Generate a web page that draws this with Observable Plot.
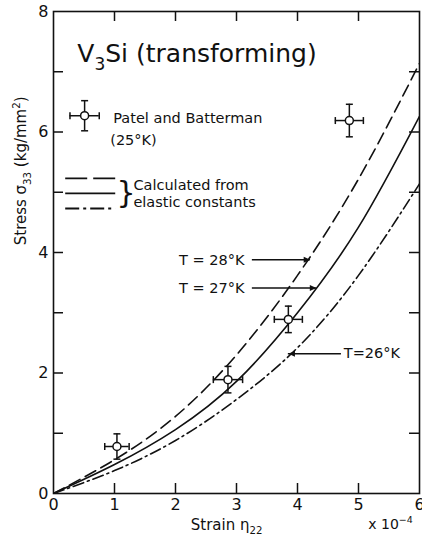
<!DOCTYPE html>
<html><head><meta charset="utf-8">
<script src="https://cdn.jsdelivr.net/npm/d3@7"></script>
<script src="https://cdn.jsdelivr.net/npm/@observablehq/plot@0.6"></script>
<style>body{margin:0;background:#fff}</style>
</head><body><div id="chart"></div>
<script>
// Tick values
const xTicks = [0, 1, 2, 3, 4, 5, 6];
const yTicks = [0, 2, 4, 6, 8];
const xTickMarks = [1, 2, 3, 4, 5];
const yTickMarks = [1, 2, 3, 4, 5, 6, 7];

// Calculated curves (strain x1e-4, stress kg/mm^2)
const strainX = [0, 1, 2, 3, 4, 5, 6];
const stress28 = [0, 0.56, 1.28, 2.30, 3.62, 5.22, 7.14];
const stress27 = [0, 0.48, 1.06, 1.86, 3.00, 4.42, 6.26];
const stress26 = [0, 0.38, 0.88, 1.56, 2.42, 3.62, 5.14];

// Patel and Batterman measurements (25 K)
const measX = [1.04, 2.86, 3.85, 4.85];
const measY = [0.78, 1.89, 2.89, 6.19];
const measErrX = [0.20, 0.24, 0.23, 0.23];
const measErrY = [0.21, 0.22, 0.22, 0.27];

// Legend sample point
const legendPoint = [{x: 0.51, y: 6.27, ex: 0.24, ey: 0.25}];
// Legend line samples
const legendDash = [{x1: 0.2, x2: 1.02, y: 5.23}];
const legendSolid = [{x1: 0.2, x2: 1.02, y: 4.98}];
const legendDashDot = [{x1: 0.2, x2: 1.02, y: 4.73}];
const braceAt = [{x: 1.19, y: 4.98}];

// Annotations
const titleNote = [{text: "V₃Si (transforming)", x: 0.39, y: 7.30}];
const notesStart = [
  {text: "Patel and Batterman", x: 0.98, y: 6.22},
  {text: "(25°K)", x: 0.93, y: 5.86},
  {text: "Calculated from", x: 1.31, y: 5.11},
  {text: "elastic constants", x: 1.31, y: 4.83},
  {text: "T=26°K", x: 4.76, y: 2.32}
];
const notesEnd = [
  {text: "T = 28°K", x: 3.13, y: 3.87},
  {text: "T = 27°K", x: 3.13, y: 3.40}
];
const arrowsRight = [
  {x1: 3.26, x2: 4.21, y: 3.88},
  {x1: 3.26, x2: 4.31, y: 3.41}
];
const arrowsLeft = [
  {x1: 4.72, x2: 3.85, y: 2.32}
];
const xLabel = [{text: "Strain η₂₂", x: 2.25}];
const xUnit = [{text: "x 10⁻⁴", x: 5.16}];
const yLabel = [{text: "Stress σ₃₃ (kg/mm²)", y: 4.12}];

const mk = (ys) => strainX.map((x, i) => ({x, y: ys[i]}));
const meas = measX.map((x, i) => ({x, y: measY[i], ex: measErrX[i], ey: measErrY[i]}));
const pts = meas.concat(legendPoint);

const capH = {draw(ctx, size) { const r = Math.sqrt(size / Math.PI); ctx.moveTo(-r, 0); ctx.lineTo(r, 0); }};
const capV = {draw(ctx, size) { const r = Math.sqrt(size / Math.PI); ctx.moveTo(0, -r); ctx.lineTo(0, r); }};
const head = {draw(ctx, size) { const r = Math.sqrt(size / Math.PI); ctx.moveTo(0, 0); ctx.lineTo(-2.2 * r, -r); ctx.lineTo(-2.2 * r, r); ctx.closePath(); }};

const ink = "#111";
const F = "DejaVu Sans";

const chart = Plot.plot({
  width: 422,
  height: 543,
  marginLeft: 53,
  marginRight: 3,
  marginTop: 11,
  marginBottom: 50,
  x: {domain: [0, 6]},
  y: {domain: [0, 8]},
  style: {fontFamily: F, background: "#fff", color: ink},
  marks: [
    Plot.frame({stroke: ink, strokeWidth: 1.6}),
    Plot.ruleX(xTickMarks, {x: d => d, insetTop: 472, stroke: ink, strokeWidth: 1.5}),
    Plot.ruleX(xTickMarks, {x: d => d, insetBottom: 472, stroke: ink, strokeWidth: 1.5}),
    Plot.ruleY(yTickMarks, {y: d => d, insetRight: 356, stroke: ink, strokeWidth: 1.5}),
    Plot.ruleY(yTickMarks, {y: d => d, insetLeft: 356, stroke: ink, strokeWidth: 1.5}),
    Plot.axisX({ticks: xTicks, tickSize: 0, tickPadding: 5, fontSize: 16, tickFormat: d => String(d), label: null}),
    Plot.axisY({ticks: yTicks, tickSize: 0, tickPadding: 5, fontSize: 16, tickFormat: d => String(d), label: null}),
    // curves
    Plot.line(mk(stress28), {x: "x", y: "y", curve: "natural", stroke: ink, strokeWidth: 1.6, strokeDasharray: "12,6", clip: true}),
    Plot.line(mk(stress27), {x: "x", y: "y", curve: "natural", stroke: ink, strokeWidth: 1.6, clip: true}),
    Plot.line(mk(stress26), {x: "x", y: "y", curve: "natural", stroke: ink, strokeWidth: 1.6, strokeDasharray: "11,4,2,4", clip: true}),
    // error bars
    Plot.ruleX(pts, {x: "x", y1: d => d.y - d.ey, y2: d => d.y + d.ey, stroke: ink, strokeWidth: 1.5}),
    Plot.ruleY(pts, {y: "y", x1: d => d.x - d.ex, x2: d => d.x + d.ex, stroke: ink, strokeWidth: 1.5}),
    Plot.dot(pts, {x: "x", y: d => d.y - d.ey, symbol: capH, r: 3.5, stroke: ink, strokeWidth: 1.5}),
    Plot.dot(pts, {x: "x", y: d => d.y + d.ey, symbol: capH, r: 3.5, stroke: ink, strokeWidth: 1.5}),
    Plot.dot(pts, {x: d => d.x - d.ex, y: "y", symbol: capV, r: 3.5, stroke: ink, strokeWidth: 1.5}),
    Plot.dot(pts, {x: d => d.x + d.ex, y: "y", symbol: capV, r: 3.5, stroke: ink, strokeWidth: 1.5}),
    Plot.dot(pts, {x: "x", y: "y", r: 4, fill: "#fff", stroke: ink, strokeWidth: 1.5}),
    // legend lines
    Plot.ruleY(legendDash, {x1: "x1", x2: "x2", y: "y", stroke: ink, strokeWidth: 1.8, strokeDasharray: "22,6"}),
    Plot.ruleY(legendSolid, {x1: "x1", x2: "x2", y: "y", stroke: ink, strokeWidth: 1.8}),
    Plot.ruleY(legendDashDot, {x1: "x1", x2: "x2", y: "y", stroke: ink, strokeWidth: 1.8, strokeDasharray: "14,4,3,4"}),
    Plot.text(braceAt, {x: "x", y: "y", text: () => "}", fontSize: 30, fill: ink}),
    // arrows
    Plot.ruleY(arrowsRight, {x1: "x1", x2: "x2", y: "y", stroke: ink, strokeWidth: 1.5}),
    Plot.ruleY(arrowsLeft, {x1: "x1", x2: "x2", y: "y", stroke: ink, strokeWidth: 1.5}),
    Plot.dot(arrowsRight, {x: "x2", y: "y", symbol: head, r: 3, fill: ink, stroke: "none"}),
    Plot.dot(arrowsLeft, {x: "x2", y: "y", symbol: head, r: 3, rotate: 180, fill: ink, stroke: "none"}),
    // texts
    Plot.text(titleNote, {x: "x", y: "y", text: "text", textAnchor: "start", fontSize: 25, fill: ink}),
    Plot.text(notesStart, {x: "x", y: "y", text: "text", textAnchor: "start", fontSize: 14.5, fill: ink}),
    Plot.text(notesEnd, {x: "x", y: "y", text: "text", textAnchor: "end", fontSize: 14.5, fill: ink}),
    Plot.text(xLabel, {x: "x", text: "text", frameAnchor: "bottom", dy: 36, textAnchor: "start", fontSize: 15, fill: ink}),
    Plot.text(xUnit, {x: "x", text: "text", frameAnchor: "bottom", dy: 35, textAnchor: "start", fontSize: 14, fill: ink}),
    Plot.text(yLabel, {y: "y", text: "text", frameAnchor: "left", dx: -32, rotate: -90, fontSize: 15, fill: ink})
  ]
});
document.getElementById("chart").appendChild(chart);

// Render Unicode sub/superscript characters as shifted tspans (text stays real text)
const SUB = "₀₁₂₃₄₅₆₇₈₉", SUP = "⁰¹²³⁴⁵⁶⁷⁸⁹";
function kind(c) {
  if (SUB.includes(c)) return ["sub", String(SUB.indexOf(c))];
  if (SUP.includes(c)) return ["sup", String(SUP.indexOf(c))];
  if (c === "⁻") return ["sup", "−"];
  return ["n", c];
}
chart.querySelectorAll("text").forEach(t => {
  if (t.querySelector("tspan")) return;
  const s = t.textContent;
  if (![...s].some(c => kind(c)[0] !== "n")) return;
  const fs = parseFloat(getComputedStyle(t).fontSize);
  const runs = [];
  for (const c of s) {
    const [k, ch] = kind(c);
    if (runs.length && runs[runs.length - 1].k === k) runs[runs.length - 1].s += ch;
    else runs.push({k, s: ch});
  }
  t.textContent = "";
  let cur = 0;
  for (const r of runs) {
    const target = r.k === "sub" ? 0.32 * fs : r.k === "sup" ? -0.42 * fs : 0;
    const ts = document.createElementNS("http://www.w3.org/2000/svg", "tspan");
    ts.setAttribute("dy", (target - cur).toFixed(2));
    if (r.k !== "n") ts.setAttribute("font-size", (0.68 * fs).toFixed(1));
    ts.textContent = r.s;
    t.appendChild(ts);
    cur = target;
  }
});
</script>
</body></html>
